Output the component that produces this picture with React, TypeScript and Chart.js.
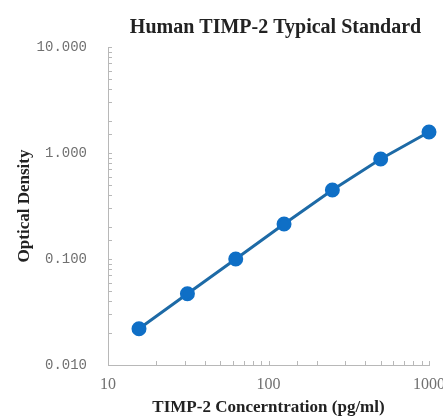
import React, { useEffect, useRef } from "react";
import { Chart, registerables } from "chart.js";

Chart.register(...registerables);

const concentrations = [15.6, 31.25, 62.5, 125, 250, 500, 1000];
const opticalDensity = [0.022, 0.047, 0.1, 0.214, 0.447, 0.877, 1.58];
const yMajorLabels: Record<string, string> = { "0.01": "0.010", "0.1": "0.100", "1": "1.000", "10": "10.000" };
const xMajorLabels: Record<string, string> = { "10": "10", "100": "100", "1000": "1000" };
const titleText = "Human TIMP-2 Typical Standard";
const xTitle = "TIMP-2 Concerntration (pg/ml)";
const yTitle = "Optical Density";

const innerTicks = {
  id: "innerTicks",
  afterDraw(chart: any) {
    const ctx = chart.ctx;
    const area = chart.chartArea;
    ctx.save();
    ctx.strokeStyle = "#b8b8b8";
    ctx.lineWidth = 1;
    const ys = chart.scales.y;
    ys.ticks.forEach((t: any) => {
      const p = Math.round(ys.getPixelForValue(t.value)) + 0.5;
      ctx.beginPath();
      ctx.moveTo(area.left, p);
      ctx.lineTo(area.left + 4, p);
      ctx.stroke();
    });
    const xs = chart.scales.x;
    xs.ticks.forEach((t: any) => {
      const p = Math.round(xs.getPixelForValue(t.value)) + 0.5;
      ctx.beginPath();
      ctx.moveTo(p, area.bottom);
      ctx.lineTo(p, area.bottom - 4);
      ctx.stroke();
    });
    ctx.fillStyle = "#222";
    ctx.font = "bold 20px 'Liberation Serif'";
    ctx.textAlign = "center";
    ctx.textBaseline = "alphabetic";
    ctx.fillText(titleText, (area.left + chart.width) / 2, 33);
    ctx.restore();
  },
};

export default function App() {
  const ref = useRef<HTMLCanvasElement | null>(null);
  useEffect(() => {
    if (!ref.current) return;
    const chart = new Chart(ref.current, {
      type: "line",
      data: {
        datasets: [
          {
            data: concentrations.map((x, i) => ({ x, y: opticalDensity[i] })),
            borderColor: "#1d6aa6",
            backgroundColor: "#0f6fc6",
            pointBackgroundColor: "#0f6fc6",
            pointBorderColor: "#0f6fc6",
            borderWidth: 3,
            pointRadius: 6,
            tension: 0,
            clip: false,
          },
        ],
      },
      plugins: [innerTicks],
      options: {
        animation: false,
        responsive: false,
        maintainAspectRatio: false,
        layout: { padding: { top: 47, right: 0, bottom: 0, left: 14 } },
        plugins: {
          legend: { display: false },
          tooltip: { enabled: false },
          title: { display: false },
        },
        scales: {
          x: {
            type: "logarithmic",
            min: 10,
            max: 1000,
            afterFit: (scale: any) => {
              scale.height = 52;
              scale.paddingRight = 14;
            },
            border: { color: "#b8b8b8", width: 1 },
            grid: { display: true, drawOnChartArea: false, drawTicks: false },
            ticks: {
              autoSkip: false,
              maxRotation: 0,
              padding: 10,
              color: "#707070",
              font: { family: "Liberation Serif", size: 16 },
              callback: (v: any) => xMajorLabels[String(v)] ?? "",
            },
            title: {
              display: true,
              text: xTitle,
              color: "#222",
              font: { family: "Liberation Serif", size: 17, weight: "bold", lineHeight: 1.1 },
              padding: { top: 6, bottom: 0 },
            },
          },
          y: {
            type: "logarithmic",
            min: 0.01,
            max: 10,
            afterFit: (scale: any) => {
              scale.width = 94;
            },
            border: { color: "#b8b8b8", width: 1 },
            grid: { display: true, drawOnChartArea: false, drawTicks: false },
            ticks: {
              autoSkip: false,
              padding: 21,
              color: "#707070",
              font: { family: "Liberation Mono", size: 14 },
              callback: (v: any) => yMajorLabels[String(v)] ?? "",
            },
            title: {
              display: true,
              text: yTitle,
              color: "#222",
              font: { family: "Liberation Serif", size: 17, weight: "bold" },
              padding: { top: 0, bottom: 5 },
            },
          },
        },
      },
    });
    return () => chart.destroy();
  }, []);
  return (
    <div style={{ position: "absolute", left: 0, top: 0, width: 443, height: 417, background: "#fff" }}>
      <canvas ref={ref} width={443} height={417} style={{ width: 443, height: 417 }} />
    </div>
  );
}
